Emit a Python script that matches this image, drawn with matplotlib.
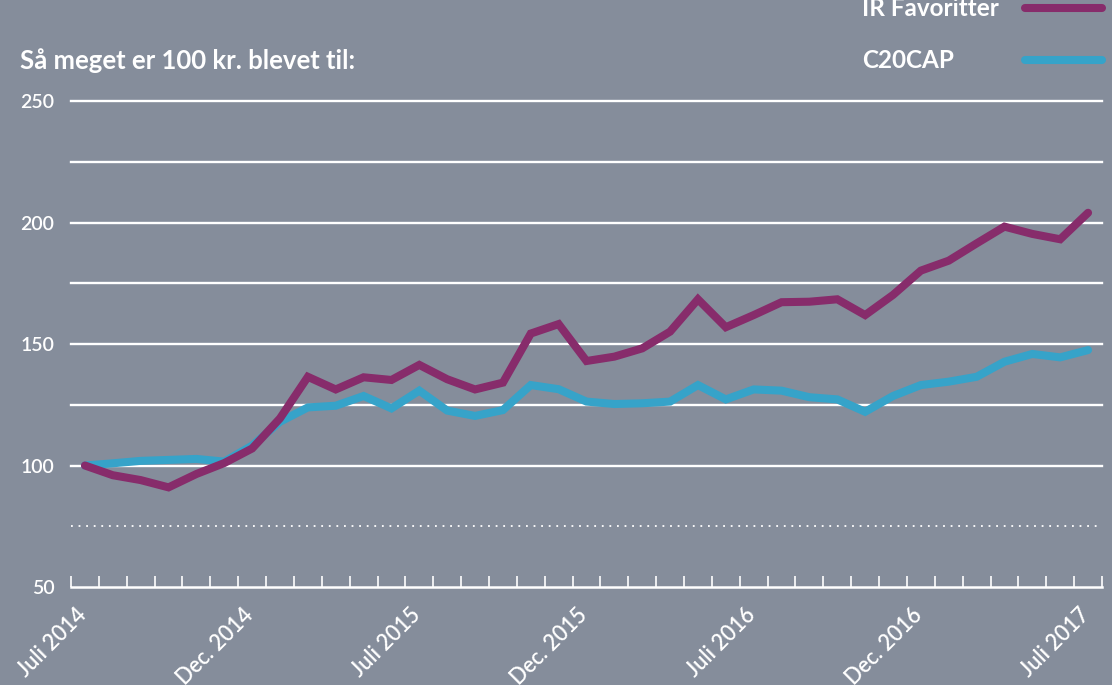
import numpy as np
import matplotlib.pyplot as plt
from matplotlib.lines import Line2D
from matplotlib.transforms import ScaledTranslation

# data: value of 100 kr., monthly from Juli 2014 to Juli 2017
ir_favoritter = [100, 96, 94, 91, 96.5, 101, 107, 119.4, 136.5, 131.3, 136.3, 135.2,
                 141.4, 135.5, 131.3, 134.1, 154.3, 158.2, 143.0, 144.8, 148.2, 155.1,
                 168.4, 156.9, 161.9, 167.2, 167.4, 168.4, 161.9, 170.2, 180.2, 184.3,
                 191.4, 198.3, 195.3, 193.1, 204.0]
c20cap = [100, 100.9, 101.9, 102.3, 102.7, 101.6, 108.2, 118.0, 123.9, 124.6, 128.6,
          123.5, 130.8, 122.6, 120.4, 122.8, 133.1, 131.4, 126.3, 125.3, 125.6, 126.3,
          133.1, 127.2, 131.3, 130.8, 128.1, 127.2, 122.1, 128.6, 133.1, 134.5, 136.5,
          142.7, 145.9, 144.5, 147.5]
series_names = ["IR Favoritter", "C20CAP"]
series_colors = ["#872c6b", "#36a3c9"]

x_label_pos = [0, 6, 12, 18, 24, 30, 36]
x_labels = ["Juli 2014", "Dec. 2014", "Juli 2015", "Dec. 2015",
            "Juli 2016", "Dec. 2016", "Juli 2017"]
y_ticks = [50, 100, 150, 200, 250]
grid_values = [100, 125, 150, 175, 200, 225, 250]

BG = "#858d9b"
FONT = "Lato"

fig = plt.figure(figsize=(11.12, 6.85), dpi=100)
fig.patch.set_facecolor(BG)
ax = fig.add_axes([71 / 1112, 1 - 587 / 685, 1031 / 1112, 486 / 685])
ax.set_facecolor(BG)

n = len(ir_favoritter)
x = np.arange(n)

# grid lines
for v in grid_values:
    ax.axhline(v, color="white", lw=1.7, zorder=1, clip_on=False)
ax.axhline(75, color="white", lw=1.3, ls=(0, (1, 3.2)), zorder=1)

for vals, color in zip([ir_favoritter, c20cap][::-1], series_colors[::-1]):
    ax.plot(x, vals, color=color, lw=5.8, solid_capstyle="round",
            solid_joinstyle="miter", zorder=3)

ax.set_xlim(-0.5, n - 0.5)
ax.set_ylim(50, 250)

for side in ["top", "right", "left"]:
    ax.spines[side].set_visible(False)
ax.spines["bottom"].set_color("white")
ax.spines["bottom"].set_linewidth(1.8)

ax.set_xticks(x_label_pos)
ax.set_xticklabels(x_labels, rotation=45, ha="right", va="center",
                   rotation_mode="anchor", fontsize=15.5, color="white",
                   family=FONT, fontweight="semibold")
ax.set_xticks(np.arange(-0.5, n, 1), minor=True)
ax.tick_params(axis="x", which="major", length=0, pad=18)
ax.tick_params(axis="x", which="minor", direction="in", length=8,
               width=1.2, color="white")
shift = ScaledTranslation(-2 / 100, 0, fig.dpi_scale_trans)
for lab in ax.get_xticklabels():
    lab.set_transform(lab.get_transform() + shift)

ax.set_yticks(y_ticks)
ax.set_yticklabels([str(v) for v in y_ticks], fontsize=14, color="white",
                   family=FONT, fontweight="semibold")
ax.tick_params(axis="y", length=0, pad=12)

fig.text(20 / 1112, 1 - 61 / 685, "Så meget er 100 kr. blevet til:",
         fontsize=18.5, color="white", family=FONT, fontweight="bold",
         va="center", ha="left")

# legend at top right
legend_y = [8, 60]
for name, color, yy in zip(series_names, series_colors, legend_y):
    fy = 1 - yy / 685
    fig.text(862 / 1112, fy, name, fontsize=17.5, color="white", family=FONT,
             fontweight="bold", va="center", ha="left")
    fig.add_artist(Line2D([1025 / 1112, 1102 / 1112], [fy, fy], color=color,
                          lw=5.8, solid_capstyle="round",
                          transform=fig.transFigure))

fig.savefig("out.png", dpi=100, facecolor=fig.get_facecolor())
